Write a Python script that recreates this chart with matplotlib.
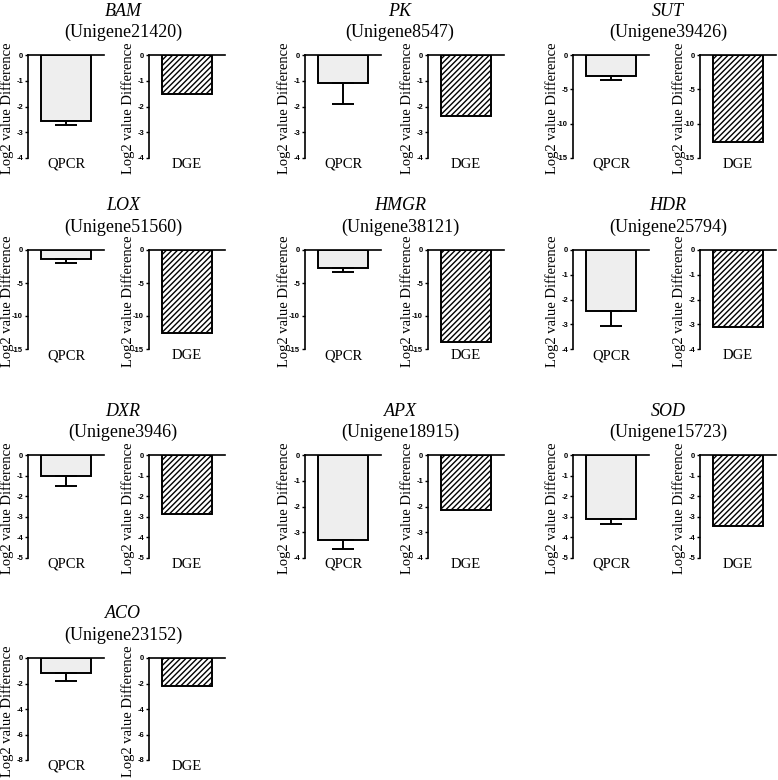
import matplotlib
matplotlib.use("Agg")
import matplotlib.pyplot as plt

genes = ['BAM', 'PK', 'SUT', 'LOX', 'HMGR', 'HDR', 'DXR', 'APX', 'SOD', 'ACO']
unigenes = ['Unigene21420', 'Unigene8547', 'Unigene39426', 'Unigene51560',
            'Unigene38121', 'Unigene25794', 'Unigene3946', 'Unigene18915',
            'Unigene15723', 'Unigene23152']
qpcr = [-2.57, -1.09, -3.1, -1.35, -2.71, -2.47, -1.0, -3.3, -3.12, -1.15]
qpcr_err = [0.16, 0.81, 0.5, 0.68, 0.62, 0.6, 0.49, 0.35, 0.24, 0.65]
dge = [-1.5, -2.37, -12.7, -12.5, -14.0, -3.1, -2.85, -2.12, -3.43, -2.19]
ymins = [-4, -4, -15, -15, -15, -4, -5, -4, -5, -8]
ysteps = [1, 1, 5, 5, 5, 1, 1, 1, 1, 2]
methods = ['QPCR', 'DGE']

plt.rcParams['hatch.linewidth'] = 1.0

W, H = 778, 780
fig = plt.figure(figsize=(W / 100, H / 100), dpi=100)

col_left = [28, 305, 573]
dge_offset = [121, 123, 127]
row_top = [55, 250, 455, 658]
row_bot = [158, 349, 558, 760]
ax_w = 76

serif = 'Liberation Serif'
sans = 'Liberation Sans'

for i, g in enumerate(genes):
    r, c = divmod(i, 3)
    top, bot = row_top[r], row_bot[r]
    lefts = [col_left[c], col_left[c] + dge_offset[c]]
    vals = [qpcr[i], dge[i]]
    for k in range(2):
        ax = fig.add_axes([lefts[k] / W, 1 - bot / H, ax_w / W, (bot - top) / H])
        if k == 0:
            ax.bar([0], [vals[k]], width=1.0, color='#eeeeee', edgecolor='black',
                   linewidth=1.4, zorder=2)
            ax.errorbar([0], [vals[k]], yerr=[[qpcr_err[i]], [0]], fmt='none',
                        ecolor='black', elinewidth=1.4, capsize=8, capthick=1.4,
                        zorder=3)
        else:
            ax.bar([0], [vals[k]], width=1.0, color='white', edgecolor='black',
                   hatch='//////', linewidth=1.4, zorder=2)
        ax.set_xlim(-0.75, 0.75)
        ax.set_ylim(ymins[i], 0)
        ticks = list(range(0, ymins[i] - 1, -ysteps[i]))
        ax.set_yticks(ticks)
        ax.set_yticklabels([str(t) for t in ticks], fontfamily=sans,
                           fontweight='bold', fontsize=5.5)
        ax.tick_params(axis='y', direction='out', length=2.5, width=1.0, pad=1)
        ax.set_xticks([0])
        ax.set_xticklabels([methods[k]], fontfamily=serif, fontsize=10.5)
        ax.tick_params(axis='x', length=0, pad=0)
        for s in ['right', 'bottom']:
            ax.spines[s].set_visible(False)
        ax.spines['left'].set_linewidth(1.2)
        ax.spines['top'].set_linewidth(1.2)
        ax.set_ylabel('Log2 value Difference', fontfamily=serif, fontsize=10.5,
                      va='center')
        ax.yaxis.set_label_coords(-0.27, 0.48)
        ax.patch.set_visible(False)
    cx = col_left[c] + 95
    fig.text(cx / W, 1 - (top - 44) / H, g, ha='center', va='center',
             fontfamily=serif, fontstyle='italic', fontsize=13)
    fig.text(cx / W, 1 - (top - 23) / H, '(' + unigenes[i] + ')', ha='center',
             va='center', fontfamily=serif, fontsize=13)

fig.savefig('out.png', dpi=100, facecolor='white')
